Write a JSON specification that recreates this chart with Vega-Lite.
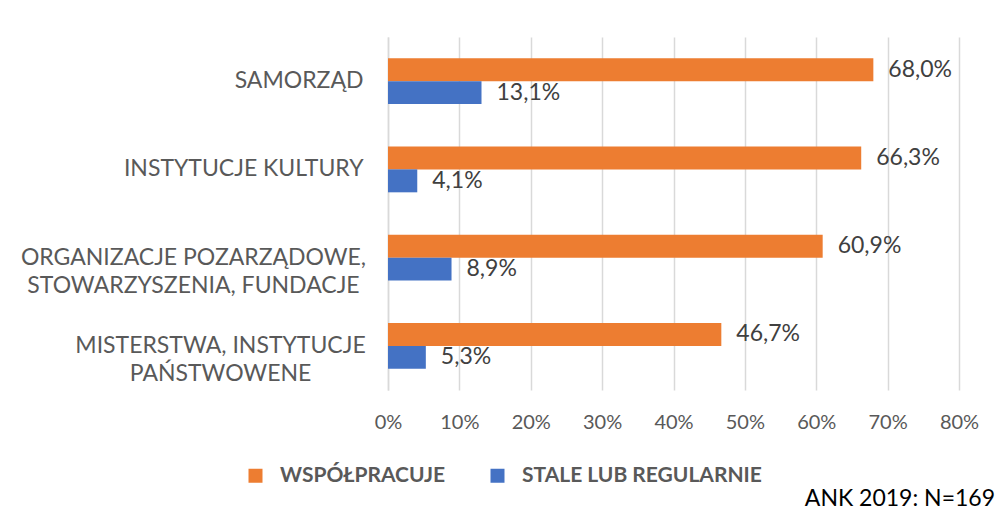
{
  "$schema": "https://vega.github.io/schema/vega-lite/v6.json",
  "width": 571,
  "height": 353,
  "autosize": "none",
  "padding": {"left": 388, "top": 37, "right": 36, "bottom": 120},
  "background": "white",
  "config": {
    "locale": {"number": {"decimal": ",", "thousands": " ", "grouping": [3], "currency": ["", " zł"]}},
    "view": {"stroke": null},
    "font": "Lato"
  },
  "title": {
    "text": "ANK 2019: N=169",
    "orient": "top",
    "anchor": "end",
    "frame": "group",
    "font": "Lato",
    "fontSize": 23,
    "fontWeight": "normal",
    "color": "#000000",
    "baseline": "top",
    "dx": 36,
    "dy": 474,
    "offset": 0
  },
  "data": {
    "values": [
      {"kategoria": "SAMORZĄD", "seria": "WSPÓŁPRACUJE", "wartosc": 0.68},
      {"kategoria": "SAMORZĄD", "seria": "STALE LUB REGULARNIE", "wartosc": 0.131},
      {"kategoria": "INSTYTUCJE KULTURY", "seria": "WSPÓŁPRACUJE", "wartosc": 0.663},
      {"kategoria": "INSTYTUCJE KULTURY", "seria": "STALE LUB REGULARNIE", "wartosc": 0.041},
      {"kategoria": "ORGANIZACJE POZARZĄDOWE, STOWARZYSZENIA, FUNDACJE", "seria": "WSPÓŁPRACUJE", "wartosc": 0.609},
      {"kategoria": "ORGANIZACJE POZARZĄDOWE, STOWARZYSZENIA, FUNDACJE", "seria": "STALE LUB REGULARNIE", "wartosc": 0.089},
      {"kategoria": "MISTERSTWA, INSTYTUCJE PAŃSTWOWENE", "seria": "WSPÓŁPRACUJE", "wartosc": 0.467},
      {"kategoria": "MISTERSTWA, INSTYTUCJE PAŃSTWOWENE", "seria": "STALE LUB REGULARNIE", "wartosc": 0.053}
    ]
  },
  "encoding": {
    "y": {
      "field": "kategoria",
      "type": "nominal",
      "sort": null,
      "scale": {"paddingInner": 0.48, "paddingOuter": 0.24},
      "axis": {
        "title": null,
        "domainColor": "#D9D9D9",
        "domainWidth": 1.5,
        "ticks": false,
        "labelFont": "Lato",
        "labelFontSize": 23,
        "labelColor": "#595959",
        "labelLimit": 500,
        "labelLineHeight": 28,
        "labelExpr": "datum.value == 'ORGANIZACJE POZARZĄDOWE, STOWARZYSZENIA, FUNDACJE' ? ['ORGANIZACJE POZARZĄDOWE,', 'STOWARZYSZENIA, FUNDACJE'] : datum.value == 'MISTERSTWA, INSTYTUCJE PAŃSTWOWENE' ? ['MISTERSTWA, INSTYTUCJE', 'PAŃSTWOWENE'] : datum.label",
        "labelAlign": {"condition": {"test": "indexof(datum.value, ',') >= 0", "value": "center"}, "value": "right"},
        "labelPadding": {"condition": [
          {"test": "datum.value == 'ORGANIZACJE POZARZĄDOWE, STOWARZYSZENIA, FUNDACJE'", "value": 195},
          {"test": "datum.value == 'MISTERSTWA, INSTYTUCJE PAŃSTWOWENE'", "value": 168}
        ], "value": 25}
      }
    },
    "yOffset": {
      "field": "seria",
      "type": "nominal",
      "sort": ["WSPÓŁPRACUJE", "STALE LUB REGULARNIE"],
      "scale": {"paddingInner": 0, "paddingOuter": 0}
    },
    "x": {
      "field": "wartosc",
      "type": "quantitative",
      "scale": {"domain": [0, 0.8]},
      "axis": {
        "title": null,
        "format": ".0%",
        "values": [0, 0.1, 0.2, 0.3, 0.4, 0.5, 0.6, 0.7, 0.8],
        "domain": false,
        "ticks": false,
        "grid": true,
        "gridColor": "#D9D9D9",
        "gridWidth": 1.5,
        "labelFlush": false,
        "labelOverlap": false,
        "labelFont": "Lato",
        "labelFontSize": 20,
        "labelColor": "#595959",
        "labelPadding": 22
      }
    }
  },
  "layer": [
    {
      "mark": {"type": "bar"},
      "encoding": {
        "color": {
          "field": "seria",
          "type": "nominal",
          "sort": ["WSPÓŁPRACUJE", "STALE LUB REGULARNIE"],
          "scale": {"domain": ["WSPÓŁPRACUJE", "STALE LUB REGULARNIE"], "range": ["#ED7D31", "#4472C4"]},
          "legend": {
            "orient": "none",
            "legendX": -143,
            "legendY": 428,
            "direction": "horizontal",
            "title": null,
            "symbolType": "square",
            "symbolSize": 196,
            "symbolStrokeWidth": 0,
            "labelFont": "Lato",
            "labelFontSize": 21,
            "labelFontWeight": "bold",
            "labelColor": "#595959",
            "labelOffset": 14,
            "labelLimit": 500,
            "columnPadding": 41
          }
        }
      }
    },
    {
      "mark": {"type": "text", "align": "left", "baseline": "middle", "dx": 15, "font": "Lato", "fontSize": 23, "color": "#404040"},
      "encoding": {
        "text": {"field": "wartosc", "type": "quantitative", "format": ".1%"}
      }
    }
  ]
}
